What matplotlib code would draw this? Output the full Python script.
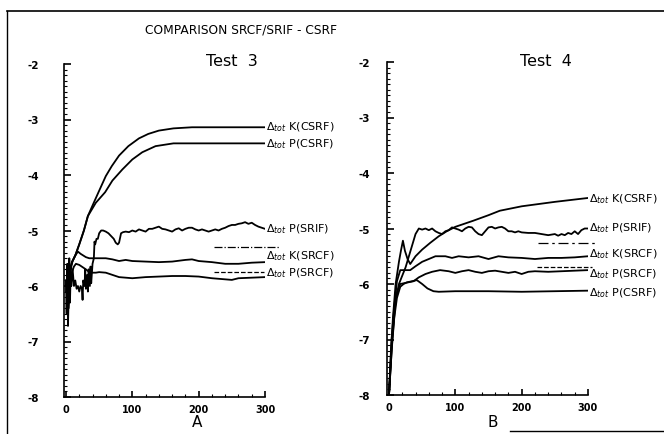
import numpy as np
import matplotlib
matplotlib.use('Agg')
from matplotlib import pyplot as plt
from matplotlib.lines import Line2D
from matplotlib.ticker import MultipleLocator

# ---- Test 3 (panel A) ----
t3_srif_x = [0, 1, 2, 3, 4, 5, 6, 7, 8, 10, 12, 14, 16, 18, 20, 22, 24, 25, 26, 28, 29, 30,
             32, 33, 34, 36, 37, 38, 40, 42, 43, 44, 46, 48, 50, 53, 56, 60, 64, 68, 72, 75,
             78, 80, 83, 86, 90, 95, 100, 105, 110, 115, 120, 125, 130, 135, 140, 145, 150,
             155, 160, 165, 170, 175, 180, 185, 190, 195, 200, 205, 210, 215, 220, 225, 230,
             235, 240, 245, 250, 255, 260, 265, 270, 275, 280, 285, 290, 295, 300]
t3_srif_p = [-5.9, -6.5, -5.6, -6.72, -6.2, -5.5, -6.3, -5.8, -6.0, -5.7, -6.0, -5.9, -6.05,
             -6.0, -6.1, -6.0, -6.05, -6.25, -5.9, -6.0, -5.7, -6.05, -5.8, -6.1, -5.7, -6.0,
             -5.65, -5.95, -5.6, -5.5, -5.2, -5.25, -5.15, -5.15, -5.05, -5.0, -5.0, -5.02,
             -5.05, -5.1, -5.15, -5.22, -5.25, -5.22, -5.05, -5.03, -5.02, -5.03, -5.0, -5.02,
             -4.98, -5.0, -5.02, -4.97, -4.97, -4.95, -4.93, -4.97, -4.98, -5.0, -5.02, -4.98,
             -4.96, -5.0, -4.97, -4.95, -4.95, -4.98, -5.0, -4.98, -5.0, -5.02, -5.0, -4.98,
             -5.0, -4.97, -4.95, -4.92, -4.9, -4.9, -4.88, -4.87, -4.85, -4.88, -4.86, -4.9,
             -4.93, -4.95, -4.97]

t3_srcf_k_x = [0, 2, 4, 6, 8, 10, 14, 18, 22, 26, 30, 35, 40, 50, 60, 70, 80, 90, 100, 120,
               140, 160, 180, 190, 200, 220, 240, 250, 260, 280, 300]
t3_srcf_k = [-6.1, -5.8, -6.4, -5.9, -5.65, -5.55, -5.45, -5.38, -5.42, -5.45, -5.48, -5.5,
             -5.5, -5.5, -5.5, -5.52, -5.55, -5.53, -5.55, -5.56, -5.57, -5.56, -5.53, -5.52,
             -5.55, -5.57, -5.6, -5.6, -5.6, -5.58, -5.57]

t3_srcf_p_x = [0, 3, 6, 9, 12, 15, 20, 25, 30, 35, 40, 45, 50, 60, 70, 80, 90, 100, 120, 140,
               160, 180, 200, 220, 240, 250, 260, 280, 300]
t3_srcf_p = [-5.9, -6.3, -5.8, -5.75, -5.65, -5.6, -5.62, -5.66, -5.7, -5.75, -5.76, -5.76,
             -5.75, -5.76, -5.8, -5.84, -5.85, -5.86, -5.84, -5.83, -5.82, -5.82, -5.83, -5.86,
             -5.88, -5.89, -5.86, -5.85, -5.84]

t3_csrf_k_x = [0, 5, 9, 14, 20, 27, 33, 40, 49, 60, 69, 80, 94, 110, 124, 140, 162, 190, 220,
               260, 300]
t3_csrf_k = [-6.0, -5.75, -5.57, -5.45, -5.25, -5.0, -4.74, -4.55, -4.31, -4.02, -3.84, -3.65,
             -3.48, -3.34, -3.26, -3.2, -3.16, -3.14, -3.14, -3.14, -3.14]

t3_csrf_p_x = [0, 5, 9, 14, 20, 27, 33, 45, 59, 70, 85, 100, 115, 135, 162, 190, 220, 260, 300]
t3_csrf_p = [-6.0, -5.75, -5.57, -5.45, -5.25, -5.0, -4.74, -4.5, -4.31, -4.1, -3.9, -3.72,
             -3.59, -3.48, -3.43, -3.43, -3.43, -3.43, -3.43]

# ---- Test 4 (panel B) ----
t4_csrf_k_x = [0, 3, 6, 10, 15, 18, 21, 24, 28, 32, 40, 50, 62, 75, 87, 100, 127, 150, 167,
               200, 250, 300]
t4_csrf_k = [-8.0, -7.2, -6.6, -6.0, -5.6, -5.4, -5.22, -5.4, -5.55, -5.64, -5.5, -5.38,
             -5.26, -5.14, -5.05, -4.97, -4.86, -4.76, -4.68, -4.6, -4.52, -4.45]

t4_srif_x = [0, 5, 10, 15, 20, 25, 30, 35, 40, 45, 50, 55, 60, 65, 70, 75, 80, 85, 90, 95,
             100, 105, 110, 115, 120, 125, 130, 135, 140, 145, 150, 155, 160, 165, 170, 175,
             180, 185, 190, 195, 200, 210, 220, 230, 240, 250, 255, 260, 265, 270, 275, 280,
             285, 290, 295, 300]
t4_srif_p = [-8.0, -7.0, -6.3, -6.0, -5.85, -5.7, -5.5, -5.3, -5.1, -5.0, -5.02, -5.0, -5.03,
             -5.0, -5.05, -5.08, -5.1, -5.05, -5.03, -4.98, -5.0, -5.02, -5.05, -5.0, -4.97,
             -4.98, -5.05, -5.1, -5.12, -5.05, -4.98, -4.97, -5.0, -4.98, -4.97, -5.0, -5.05,
             -5.05, -5.07, -5.05, -5.07, -5.08, -5.08, -5.1, -5.12, -5.1, -5.13, -5.1, -5.12,
             -5.08, -5.1, -5.05, -5.1, -5.03, -5.0, -5.0]

t4_srcf_k_x = [0, 4, 8, 12, 17, 25, 32, 40, 50, 60, 70, 77, 85, 95, 105, 120, 135, 150, 165,
               180, 200, 220, 240, 260, 280, 300]
t4_srcf_k = [-8.0, -7.0, -6.4, -5.95, -5.75, -5.75, -5.75, -5.68, -5.6, -5.55, -5.5, -5.5,
             -5.5, -5.53, -5.5, -5.52, -5.5, -5.55, -5.5, -5.52, -5.53, -5.55, -5.53, -5.53,
             -5.52, -5.5]

t4_srcf_p_x = [0, 4, 8, 12, 17, 25, 37, 45, 55, 65, 77, 90, 100, 110, 120, 130, 140, 150, 160,
               170, 180, 190, 200, 210, 220, 240, 260, 280, 300]
t4_srcf_p = [-8.0, -7.1, -6.5, -6.15, -6.0, -5.98, -5.95, -5.88, -5.82, -5.78, -5.75, -5.77,
             -5.8, -5.77, -5.75, -5.78, -5.8, -5.77, -5.76, -5.78, -5.8, -5.78, -5.82, -5.78,
             -5.77, -5.78, -5.77, -5.76, -5.75]

t4_csrf_p_x = [0, 4, 8, 12, 17, 22, 27, 35, 42, 50, 58, 67, 75, 100, 150, 200, 250, 300]
t4_csrf_p = [-8.0, -7.2, -6.6, -6.25, -6.05, -6.0, -5.97, -5.95, -5.93, -6.0, -6.08, -6.13,
             -6.14, -6.13, -6.13, -6.14, -6.13, -6.12]

# reference marks (dash-dot near K(SRCF), dashed near P(SRCF))
t3_ref_x = [223, 321]
t3_ref_k, t3_ref_p = -5.3, -5.74
t3_refp_x = [223, 299]
t4_ref_x = [225, 311]
t4_ref_k, t4_ref_p = -5.27, -5.7
t4_refp_x = [223, 306]

t3_labels = [('K(CSRF)', -3.12), ('P(CSRF)', -3.43), ('P(SRIF)', -4.96),
             ('K(SRCF)', -5.45), ('P(SRCF)', -5.76)]
t4_labels = [('K(CSRF)', -4.45), ('P(SRIF)', -4.97), ('K(SRCF)', -5.45),
             ('P(SRCF)', -5.8), ('P(CSRF)', -6.15)]

plt.rcParams['font.family'] = 'DejaVu Sans'
fig = plt.figure(figsize=(6.64, 4.35), dpi=100)
fig.patch.set_facecolor('white')

ax_a = fig.add_axes([64 / 664, 37 / 435, 201 / 664, 333 / 435])
ax_b = fig.add_axes([387 / 664, 39 / 435, 201 / 664, 333 / 435])


def style_axis(axis, ypad):
    axis.set_xlim(-3, 300)
    axis.set_ylim(-8, -2)
    for s in ['top', 'right']:
        axis.spines[s].set_visible(False)
    for s in ['left', 'bottom']:
        axis.spines[s].set_linewidth(1.2)
    axis.xaxis.set_major_locator(MultipleLocator(100))
    axis.xaxis.set_minor_locator(MultipleLocator(20))
    axis.yaxis.set_major_locator(MultipleLocator(1))
    axis.yaxis.set_minor_locator(MultipleLocator(0.1))
    axis.tick_params(axis='y', which='major', direction='in', length=5, width=1.2,
                     pad=ypad, labelsize=7.5)
    axis.tick_params(axis='y', which='minor', direction='in', length=2.5, width=0.8)
    axis.tick_params(axis='x', which='major', direction='in', length=4, width=1.2,
                     pad=5, labelsize=7)
    axis.tick_params(axis='x', which='minor', direction='in', length=2.5, width=0.8)
    axis.set_yticks(np.arange(-8, -1, 1))
    axis.set_yticklabels(['-8', '-7', '-6', '-5', '-4', '-3', '-2'], fontweight='bold')
    axis.set_xticks([0, 100, 200, 300])
    axis.set_xticklabels(['0', '100', '200', '300'], fontweight='bold')
    axis.patch.set_alpha(0)


style_axis(ax_a, 18)
style_axis(ax_b, 12)

lw = 1.3
ax_a.plot(t3_srif_x, t3_srif_p, color='k', lw=lw)
ax_a.plot(t3_srcf_k_x, t3_srcf_k, color='k', lw=lw)
ax_a.plot(t3_srcf_p_x, t3_srcf_p, color='k', lw=lw)
ax_a.plot(t3_csrf_k_x, t3_csrf_k, color='k', lw=lw)
ax_a.plot(t3_csrf_p_x, t3_csrf_p, color='k', lw=lw)
ax_a.plot(t3_ref_x, [t3_ref_k] * 2, color='k', lw=0.9, ls='-.', clip_on=False)
ax_a.plot(t3_refp_x, [t3_ref_p] * 2, color='k', lw=0.9, ls='--', clip_on=False)

ax_b.plot(t4_csrf_k_x, t4_csrf_k, color='k', lw=lw)
ax_b.plot(t4_srif_x, t4_srif_p, color='k', lw=lw)
ax_b.plot(t4_srcf_k_x, t4_srcf_k, color='k', lw=lw)
ax_b.plot(t4_srcf_p_x, t4_srcf_p, color='k', lw=lw)
ax_b.plot(t4_csrf_p_x, t4_csrf_p, color='k', lw=lw)
ax_b.plot(t4_ref_x, [t4_ref_k] * 2, color='k', lw=0.9, ls=(0, (8, 3, 2, 3)), clip_on=False)
ax_b.plot(t4_refp_x, [t4_ref_p] * 2, color='k', lw=0.9, ls='--', clip_on=False)

for axis, labels in [(ax_a, t3_labels), (ax_b, t4_labels)]:
    for name, yv in labels:
        axis.text(302, yv, r'$\Delta_{tot}$ ' + name, fontsize=8, va='center', ha='left',
                  clip_on=False)

fig.text(197 / 664, 1 - 423 / 435, 'A', ha='center', va='center', fontsize=11)
fig.text(493 / 664, 1 - 423 / 435, 'B', ha='center', va='center', fontsize=11)

fig.text(145 / 664, 1 - 30 / 435, 'COMPARISON SRCF/SRIF - CSRF', fontsize=8.8,
         va='center', ha='left')
fig.text(232 / 664, 1 - 62 / 435, 'Test  3', fontsize=11.5, va='center', ha='center')
fig.text(546 / 664, 1 - 62 / 435, 'Test  4', fontsize=11.5, va='center', ha='center')

# scan frame
fig.add_artist(Line2D([7 / 664, 1.0], [1 - 12 / 435, 1 - 12 / 435], color='k', lw=1.2))
fig.add_artist(Line2D([7 / 664, 7 / 664], [0.0, 1 - 12 / 435], color='k', lw=1.0))
fig.add_artist(Line2D([510 / 664, 1.0], [1 - 432 / 435, 1 - 432 / 435], color='k', lw=1.0))

fig.savefig('out.png', dpi=100)
